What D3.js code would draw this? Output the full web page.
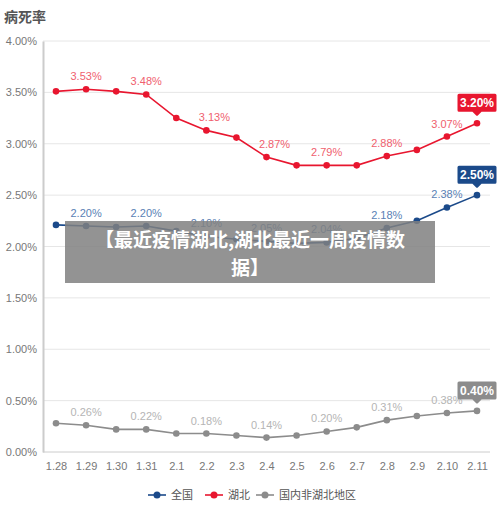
<!DOCTYPE html><html><head><meta charset="utf-8"><script src="https://cdn.jsdelivr.net/npm/d3@7"></script>
<style>body{margin:0;background:#fff;font-family:"Noto Sans CJK SC","Noto Sans",sans-serif}</style></head><body><svg id="c" width="500" height="505"></svg><script>
const categories=["1.28","1.29","1.30","1.31","2.1","2.2","2.3","2.4","2.5","2.6","2.7","2.8","2.9","2.10","2.11"];
const yTicks=[0,0.5,1,1.5,2,2.5,3,3.5,4];
const national=[2.21,2.20,2.19,2.20,2.15,2.10,2.07,2.05,2.03,2.04,2.08,2.18,2.25,2.38,2.50];
const hubei=[3.51,3.53,3.51,3.48,3.25,3.13,3.06,2.87,2.79,2.79,2.79,2.88,2.94,3.07,3.20];
const other=[0.28,0.26,0.22,0.22,0.18,0.18,0.16,0.14,0.16,0.20,0.24,0.31,0.35,0.38,0.40];
const seriesNames=["全国","湖北","国内非湖北地区"];
const colors=["#1b4a8a","#e8162f","#8c8c8c"];
const labelColors=["#5a7fb5","#f0606e","#b5b5b5"];
const svg=d3.select("#c");
const x=d3.scalePoint().domain(categories).range([56,477]);
const y=d3.scaleLinear().domain([0,4]).range([452,41]);
svg.append("text").attr("x",4).attr("y",22).text("病死率").attr("font-size",14).attr("font-weight","bold").attr("fill","#555");
svg.append("g").selectAll("line").data(yTicks.slice(1)).join("line").attr("x1",43).attr("x2",490).attr("y1",d=>y(d)).attr("y2",d=>y(d)).attr("stroke","#e6e6e6");
svg.append("g").attr("transform","translate(43,0)").call(d3.axisLeft(y).tickValues(yTicks).tickFormat(d=>d.toFixed(2)+"%").tickSize(0).tickPadding(6))
 .call(g=>{g.select(".domain").attr("stroke","#ccc").attr("stroke-width",2);g.selectAll("text").attr("fill","#777").attr("font-size",11).attr("font-family","Liberation Sans")});
svg.append("g").attr("transform","translate(0,452)").call(d3.axisBottom(x).tickSize(0).tickPadding(10))
 .call(g=>{g.select(".domain").attr("stroke","#ccc").attr("d","M43,0H490");g.selectAll("text").attr("fill","#777").attr("font-size",11).attr("font-family","Liberation Sans")});
[national,hubei,other].forEach((s,k)=>{
 svg.append("path").datum(s).attr("fill","none").attr("stroke",colors[k]).attr("stroke-width",1.6)
  .attr("d",d3.line().x((d,i)=>x(categories[i])).y(d=>y(d)));
 svg.append("g").selectAll("circle").data(s).join("circle").attr("cx",(d,i)=>x(categories[i])).attr("cy",d=>y(d)).attr("r",3.3).attr("fill",colors[k]);
 s.forEach((v,i)=>{
  if(i%2==1){
   const dx=(k==1&&(i==5||i==7))?8:0;
   svg.append("text").attr("x",x(categories[i])+dx).attr("y",y(v)-9).attr("text-anchor","middle").attr("font-size",11).attr("font-family","Liberation Sans").attr("fill",labelColors[k]).text(v.toFixed(2)+"%");
  }
  if(i==14){
   const cx=x(categories[i]),cy=y(v)-20;
   svg.append("path").attr("d",`M${cx-18},${cy-8}h36v15h-14l-4,4l-4,-4h-14z`).attr("fill",colors[k]).attr("stroke",colors[k]).attr("stroke-linejoin","round").attr("stroke-width",3);
   svg.append("text").attr("x",cx).attr("y",cy+4).attr("text-anchor","middle").attr("font-size",12).attr("font-weight","bold").attr("font-family","Liberation Sans").attr("fill","#fff").text(v.toFixed(2)+"%");
  }
 });
});
const lg=svg.append("g");
const lx=[148,205,256];
seriesNames.forEach((n,k)=>{
 lg.append("line").attr("x1",lx[k]).attr("x2",lx[k]+18).attr("y1",495).attr("y2",495).attr("stroke",colors[k]).attr("stroke-width",1.6);
 lg.append("circle").attr("cx",lx[k]+9).attr("cy",495).attr("r",3.5).attr("fill",colors[k]);
 lg.append("text").attr("x",lx[k]+23).attr("y",499).attr("font-size",11).attr("fill","#555").text(n);
});
svg.append("rect").attr("x",65).attr("y",221).attr("width",370).attr("height",62).attr("fill","#808080").attr("opacity",0.85);
svg.append("text").attr("x",250).attr("y",247).attr("text-anchor","middle").attr("fill","#fff").attr("font-size",19).attr("font-weight","bold").text("【最近疫情湖北,湖北最近一周疫情数");
svg.append("text").attr("x",250).attr("y",275).attr("text-anchor","middle").attr("fill","#fff").attr("font-size",19).attr("font-weight","bold").text("据】");
</script></body></html>
